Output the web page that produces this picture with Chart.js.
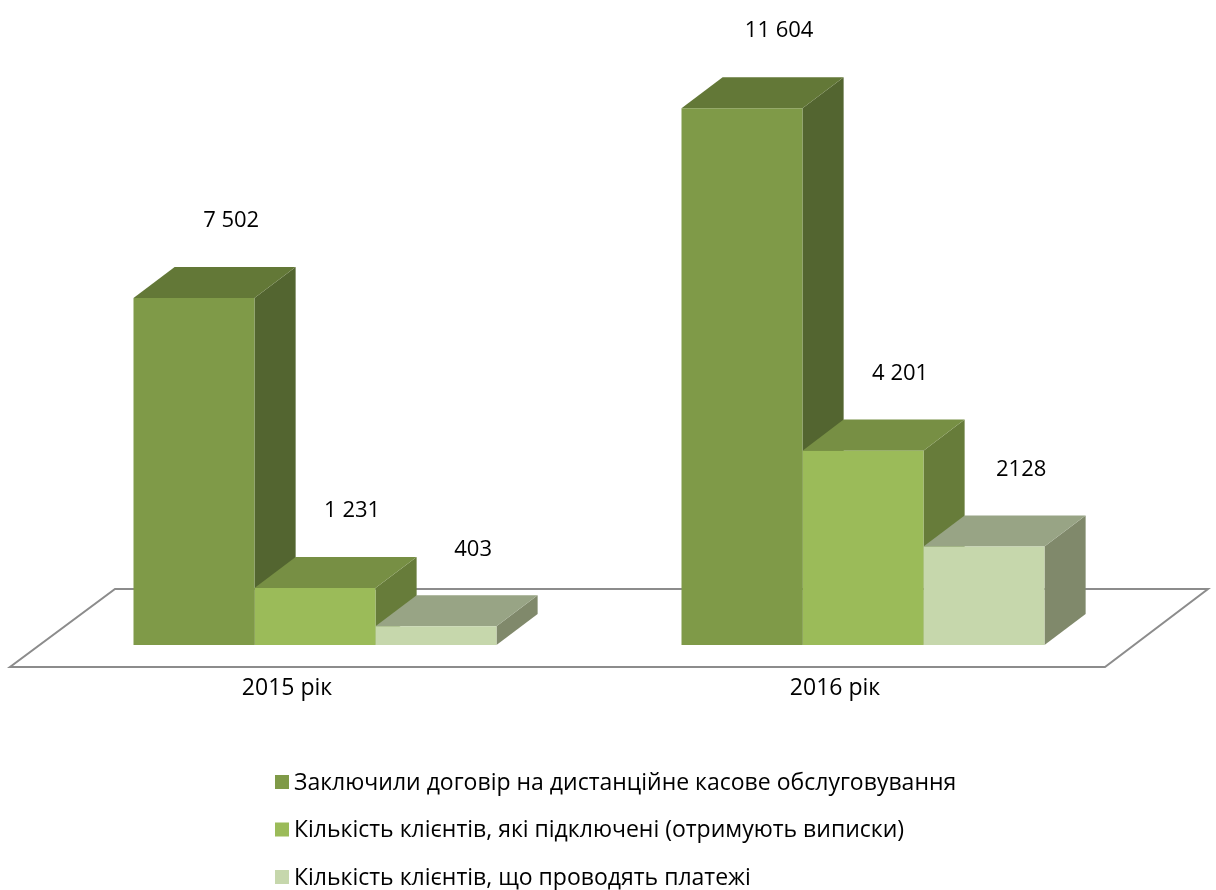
<!DOCTYPE html>
<html>
<head>
<meta charset="utf-8">
<script src="https://cdn.jsdelivr.net/npm/chart.js@4/dist/chart.umd.min.js"></script>
<style>
  html, body { margin: 0; padding: 0; background: #fff; }
  #wrap { width: 1216px; height: 890px; }
</style>
</head>
<body>
<div id="wrap"><canvas id="chart" width="1216" height="890"></canvas></div>
<script>
// categories and series
var years = ['2015 рік', '2016 рік'];
var contracts = [7502, 11604];
var connected = [1231, 4201];
var payments = [403, 2128];

var seriesNames = [
    'Заключили договір на дистанційне касове обслуговування',
    'Кількість клієнтів, які підключені (отримують виписки)',
    'Кількість клієнтів, що проводять платежі'
];
// data labels as printed on the chart
var contractsText = ['7 502', '11 604'];
var connectedText = ['1 231', '4 201'];
var paymentsText = ['403', '2128'];

var frontColors = ['#7f9a48', '#9bbb59', '#c6d7ac'];
var topColors = ['#637837', '#778f44', '#98a485'];
var sideColors = ['#536530', '#677c3a', '#80896b'];

var FONT = '"Open Sans", "Noto Sans", sans-serif';

function faces(ctx, bar, i) {
    var dx = bar.width * 0.34, dy = dx * 0.756;
    var l = bar.x - bar.width / 2, r = bar.x + bar.width / 2;
    // side
    ctx.fillStyle = sideColors[i];
    ctx.beginPath();
    ctx.moveTo(r, bar.base);
    ctx.lineTo(r, bar.y);
    ctx.lineTo(r + dx, bar.y - dy);
    ctx.lineTo(r + dx, bar.base - dy);
    ctx.closePath();
    ctx.fill();
    // top
    ctx.fillStyle = topColors[i];
    ctx.beginPath();
    ctx.moveTo(l, bar.y);
    ctx.lineTo(r, bar.y);
    ctx.lineTo(r + dx, bar.y - dy);
    ctx.lineTo(l + dx, bar.y - dy);
    ctx.closePath();
    ctx.fill();
}

var box3d = {
    id: 'box3d',
    beforeDatasetsDraw: function (chart) {
        var ctx = chart.ctx, a = chart.chartArea;
        var base = chart.scales.y.getPixelForValue(0);
        // floor
        ctx.save();
        ctx.strokeStyle = '#8c8c8c';
        ctx.lineWidth = 2;
        ctx.beginPath();
        ctx.moveTo(a.left - 31, base + 22);
        ctx.lineTo(a.right - 32, base + 22);
        ctx.lineTo(a.right + 71, base - 56);
        ctx.lineTo(a.left + 74, base - 56);
        ctx.closePath();
        ctx.stroke();
        for (var c = 0; c < years.length; c++) {
            for (var d = 0; d < chart.data.datasets.length; d++) {
                faces(ctx, chart.getDatasetMeta(d).data[c], d);
            }
        }
        ctx.restore();
    },
    afterDatasetsDraw: function (chart) {
        var ctx = chart.ctx, a = chart.chartArea;
        var texts = [contractsText, connectedText, paymentsText];
        ctx.save();
        ctx.fillStyle = '#000';
        ctx.textAlign = 'center';
        ctx.textBaseline = 'middle';
        ctx.font = '22px ' + FONT;
        for (var d = 0; d < chart.data.datasets.length; d++) {
            var meta = chart.getDatasetMeta(d);
            for (var c = 0; c < meta.data.length; c++) {
                var bar = meta.data[c];
                var dx = bar.width * 0.34;
                ctx.fillText(texts[d][c], bar.x + dx - 4, bar.y - dx * 0.756 - 46);
            }
        }
        // category labels
        ctx.font = '23px ' + FONT;
        for (var i = 0; i < years.length; i++) {
            ctx.fillText(years[i], chart.scales.x.getPixelForValue(i) - 28, a.bottom + 43);
        }
        // legend
        ctx.textAlign = 'left';
        ctx.font = '23px ' + FONT;
        for (var k = 0; k < seriesNames.length; k++) {
            var yy = a.bottom + 137 + k * 47.5;
            ctx.fillStyle = frontColors[k];
            ctx.fillRect(275, yy - 7, 14, 14);
            ctx.fillStyle = '#000';
            ctx.fillText(seriesNames[k], 294, yy + 1);
        }
        ctx.restore();
    }
};

var ctx = document.getElementById('chart');
var myChart = new Chart(ctx, {
    type: 'bar',
    data: {
        labels: years,
        datasets: [
            { label: seriesNames[0], data: contracts, backgroundColor: frontColors[0] },
            { label: seriesNames[1], data: connected, backgroundColor: frontColors[1] },
            { label: seriesNames[2], data: payments, backgroundColor: frontColors[2] }
        ]
    },
    options: {
        responsive: false,
        animation: false,
        layout: { padding: { left: 41, right: 79, top: 90, bottom: 245 } },
        datasets: { bar: { categoryPercentage: 0.6624, barPercentage: 1.0, borderWidth: 0 } },
        scales: {
            x: { display: false },
            y: { display: false, min: 0, max: 12000 }
        },
        plugins: {
            legend: { display: false },
            tooltip: { enabled: false }
        }
    },
    plugins: [box3d]
});
</script>
</body>
</html>
